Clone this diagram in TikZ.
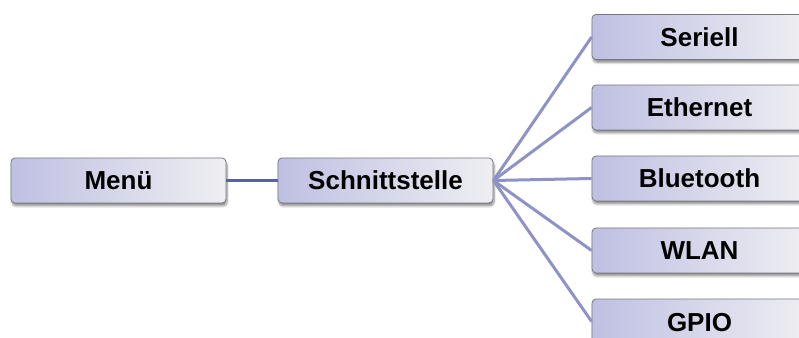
\documentclass[tikz,border=0pt]{standalone}
\usepackage{fontspec}
\setmainfont{Liberation Sans}
\usetikzlibrary{shadows.blur}
\definecolor{boxleft}{HTML}{BFC0E2}
\definecolor{boxmid}{HTML}{DCDCEC}
\definecolor{boxright}{HTML}{EEEEF2}
\definecolor{boxborder}{HTML}{777780}
\definecolor{mainline}{HTML}{5A5EAC}
\definecolor{fanline}{HTML}{8E92C5}
\tikzset{
  menubox/.style={draw=boxborder, line width=0.8pt, rounded corners=4pt,
    left color=boxleft, middle color=boxmid, right color=boxright,
    minimum width=215pt, minimum height=45pt, inner sep=0pt,
    text height=19pt, text depth=0pt,
    font=\fontsize{26}{30}\selectfont\bfseries,
    blur shadow={shadow xshift=1pt, shadow yshift=-3pt, shadow blur steps=8, shadow opacity=45}},
  mainconn/.style={draw=mainline, line width=3pt},
  fanconn/.style={draw=fanline, line width=3pt}
}
\begin{document}
\begin{tikzpicture}[x=1pt,y=1pt]
\useasboundingbox (0,0) rectangle (799,337);
\begin{scope}
\clip (0,0) rectangle (799,337);
\node[menubox] (menu) at (118.5,156.5) {Menü};
\node[menubox] (schnitt) at (385.5,156.5) {Schnittstelle};
\node[menubox] (seriell) at (699.5,300) {Seriell};
\node[menubox] (ethernet) at (699.5,229.5) {Ethernet};
\node[menubox] (bluetooth) at (699.5,158.5) {Bluetooth};
\node[menubox] (wlan) at (699.5,86.5) {WLAN};
\node[menubox] (gpio) at (699.5,15.5) {GPIO};
\draw[mainconn] (menu.east) -- (schnitt.west);
\draw[fanconn] (schnitt.east) -- (seriell.west);
\draw[fanconn] (schnitt.east) -- (ethernet.west);
\draw[fanconn] (schnitt.east) -- (bluetooth.west);
\draw[fanconn] (schnitt.east) -- (wlan.west);
\draw[fanconn] (schnitt.east) -- (gpio.west);
\end{scope}
\end{tikzpicture}
\end{document}
